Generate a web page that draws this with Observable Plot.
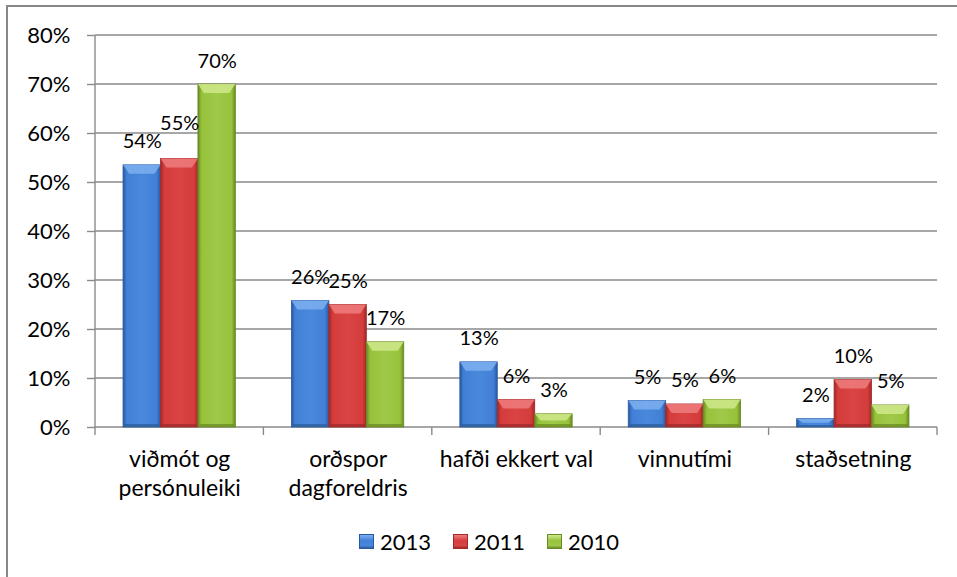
<!DOCTYPE html>
<html><head><meta charset="utf-8">
<script src="https://cdn.jsdelivr.net/npm/d3@7"></script>
<script src="https://cdn.jsdelivr.net/npm/@observablehq/plot@0.6"></script>
<style>
html,body{margin:0;padding:0;background:#fff;}
body{width:957px;height:577px;position:relative;overflow:hidden;font-family:Lato,"Open Sans",sans-serif;}
#frame{position:absolute;left:6px;top:5px;width:960px;height:580px;border-left:2px solid #878787;border-top:2px solid #878787;}
#chart{position:absolute;left:0;top:0;}
#legend{position:absolute;top:531px;left:359px;display:flex;align-items:center;font-size:22px;color:#000;height:20px;}
.item{display:flex;align-items:center;margin-right:22px;}
.sw{width:15px;height:15px;margin-right:6px;box-sizing:border-box;}
</style></head>
<body>
<div id="frame"></div>
<div id="chart"></div>
<div id="legend"></div>
<script>
const categories = ["viðmót og\npersónuleiki", "orðspor\ndagforeldris", "hafði ekkert val", "vinnutími", "staðsetning"];
const years = ["2013", "2011", "2010"];
const v2013 = [53.5, 25.8, 13.3, 5.4, 1.7];
const v2011 = [54.8, 25.0, 5.6, 4.7, 9.7];
const v2010 = [70.0, 17.4, 2.7, 5.6, 4.5];
const yTicks = [0, 10, 20, 30, 40, 50, 60, 70, 80];

const seriesValues = {"2013": v2013, "2011": v2011, "2010": v2010};
const palette = {
  "2013": {edge: "#2958a0", face: "#4180d6", mid: "#4a88dc", top: "#7cb0f0", bottom: "#2d5f9e"},
  "2011": {edge: "#a02828", face: "#d53c3c", mid: "#da4444", top: "#ee7d7d", bottom: "#a32a2a"},
  "2010": {edge: "#688a22", face: "#97c23b", mid: "#9fc949", top: "#cfe98c", bottom: "#6d9026"}
};
const data = categories.flatMap((c, i) => years.map(y => ({category: c, year: y, value: seriesValues[y][i]})));

const W = 957, H = 520, ML = 95, MR = 20, MT = 35, MB = 93;
const pInner = 0.333, pOuter = 0.1665;
const nCat = categories.length;
const outerPad = (W - ML - MR) / (nCat - pInner + 2 * pOuter) * pOuter;

const gray = "#8a8a8a";
const ns = "http://www.w3.org/2000/svg";
const labelFont = 20;

// grid, left axis line, baseline and category boundary ticks, drawn once over the whole frame
function decor() {
  return Plot.frame({
    facet: "super", stroke: "none",
    render(index, scales, values, dims) {
      const g = document.createElementNS(ns, "g");
      const y = scales.y;
      const a0 = dims.marginLeft, a1 = dims.width - dims.marginRight; // outer range of the facet bands
      const step = (a1 - a0) / (nCat - pInner);
      const pad = step * pOuter;
      const x0 = a0 - pad, x1 = a1 + pad;
      const add = (a, b, c, d) => {
        const l = document.createElementNS(ns, "line");
        l.setAttribute("x1", a); l.setAttribute("y1", b); l.setAttribute("x2", c); l.setAttribute("y2", d);
        l.setAttribute("stroke", gray); l.setAttribute("stroke-width", 1.4);
        g.appendChild(l);
      };
      for (const t of yTicks) add(x0, y(t), x1, y(t));
      add(x0, y(yTicks[yTicks.length - 1]), x0, y(0));
      for (let i = 0; i <= nCat; i++) { const x = x0 + i * step; add(x, y(0), x, y(0) + 8); }
      return g;
    }
  });
}

// lift a value label above its left neighbour when they collide and its bar is taller
const ctx = document.createElement("canvas").getContext("2d");
ctx.font = `${labelFont}px Lato`;
function avoidCollisions(index, scales, values, dims, context, next) {
  const X = values.x, Y = Float64Array.from(values.y), T = values.text;
  const idx = Array.from(index).sort((a, b) => X[a] - X[b]);
  for (let k = 1; k < idx.length; k++) {
    const i = idx[k - 1], j = idx[k];
    const wi = ctx.measureText(T[i]).width, wj = ctx.measureText(T[j]).width;
    const overlap = (X[i] + wi / 2) - (X[j] - wj / 2);
    if (overlap > 0 && data[j].value > data[i].value) Y[j] = Math.min(Y[j], Y[i] - labelFont * 0.9);
  }
  return next(index, scales, {...values, y: Y}, dims, context);
}

const plot = Plot.plot({
  width: W, height: H,
  marginLeft: ML, marginRight: MR, marginTop: MT, marginBottom: MB,
  facet: {marginLeft: 0, marginRight: 0, marginTop: 0, marginBottom: 0},
  style: {fontFamily: "Lato, 'Open Sans', sans-serif", fontSize: "22px", color: "#000", background: "transparent", overflow: "visible"},
  fx: {domain: categories, paddingInner: pInner, paddingOuter: pOuter, round: false, label: null},
  x: {domain: years, padding: 0, round: false, axis: null},
  y: {domain: [0, 80], axis: null},
  color: {domain: years, range: years.map(y => `url(#g${y})`)},
  marks: [
    decor(),
    Plot.axisY({ticks: yTicks, tickFormat: d => d + "%", tickSize: 8, tickPadding: 17, dx: -outerPad, fontSize: 22, stroke: gray, strokeWidth: 1.4, fill: "#000", label: null}),
    Plot.axisFx({anchor: "bottom", tickSize: 0, tickPadding: 19, fontSize: 23, lineHeight: 1.27, fill: "#000", label: null}),
    Plot.barY(data, {fx: "category", x: "year", y: "value", fill: "year", inset: 0}),
    Plot.text(data, {fx: "category", x: "year", y: "value", text: d => Math.round(d.value) + "%", dy: -17, lineAnchor: "bottom", fontSize: labelFont, fill: "#000", render: avoidCollisions})
  ]
});

// gradients
const defs = document.createElementNS(ns, "defs");
for (const y of years) {
  const p = palette[y];
  const lg = document.createElementNS(ns, "linearGradient");
  lg.setAttribute("id", "g" + y);
  lg.setAttribute("x1", "0"); lg.setAttribute("x2", "1"); lg.setAttribute("y1", "0"); lg.setAttribute("y2", "0");
  [[0, p.edge], [0.1, p.face], [0.5, p.mid], [0.9, p.face], [1, p.edge]].forEach(([o, c]) => {
    const s = document.createElementNS(ns, "stop");
    s.setAttribute("offset", o); s.setAttribute("stop-color", c); lg.appendChild(s);
  });
  defs.appendChild(lg);
}
plot.insertBefore(defs, plot.firstChild);

// bevels
plot.querySelectorAll('g[aria-label="bar"] rect').forEach(r => {
  const x = +r.getAttribute("x"), y = +r.getAttribute("y"), w = +r.getAttribute("width"), h = +r.getAttribute("height");
  const fill = r.getAttribute("fill") || r.parentNode.getAttribute("fill") || "";
  const key = (fill.match(/g(\d{4})/) || [])[1];
  if (!key) return;
  const p = palette[key];
  r.setAttribute("stroke", p.edge); r.setAttribute("stroke-width", 0.8);
  const b = Math.min(9, h / 2), s = Math.min(6, w / 4);
  const top = document.createElementNS(ns, "polygon");
  top.setAttribute("points", `${x},${y} ${x + w},${y} ${x + w - s},${y + b} ${x + s},${y + b}`);
  top.setAttribute("fill", p.top); top.setAttribute("fill-opacity", 0.85);
  const bb = Math.min(3, h / 4);
  const bot = document.createElementNS(ns, "polygon");
  bot.setAttribute("points", `${x},${y + h} ${x + w},${y + h} ${x + w - 2},${y + h - bb} ${x + 2},${y + h - bb}`);
  bot.setAttribute("fill", p.bottom); bot.setAttribute("fill-opacity", 0.8);
  r.after(top); top.after(bot);
});

document.getElementById("chart").appendChild(plot);

// legend
const legend = document.getElementById("legend");
for (const y of years) {
  const p = palette[y];
  const item = document.createElement("div"); item.className = "item";
  const sw = document.createElement("div"); sw.className = "sw";
  sw.style.background = `linear-gradient(to bottom, ${p.top} 0, ${p.face} 45%, ${p.mid} 80%, ${p.bottom} 100%)`;
  sw.style.border = `1px solid ${p.edge}`;
  const t = document.createElement("span"); t.textContent = y;
  item.appendChild(sw); item.appendChild(t); legend.appendChild(item);
}
</script>
</body></html>
